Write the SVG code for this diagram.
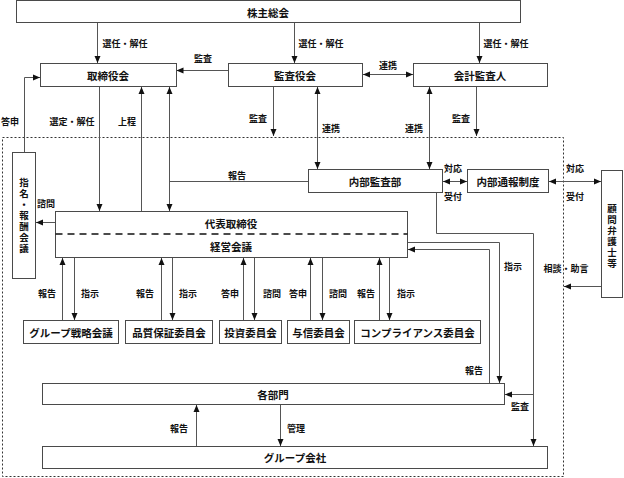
<svg xmlns="http://www.w3.org/2000/svg" width="624" height="478" viewBox="0 0 624 478">
<style>
.box{fill:#fff;stroke:#4a4a4a;stroke-width:1}
.t{font-family:"Noto Sans CJK JP","Noto Sans",sans-serif;font-size:10.5px;font-weight:bold;fill:#111;text-anchor:middle;dominant-baseline:central}
.v{font-family:"Noto Sans CJK JP","Noto Sans",sans-serif;font-size:9.5px;font-weight:bold;fill:#111;text-anchor:middle;writing-mode:vertical-rl;letter-spacing:1.5px}
.l{font-family:"Noto Sans CJK JP","Noto Sans",sans-serif;font-size:9px;font-weight:bold;fill:#111;text-anchor:middle;dominant-baseline:central}
.c{fill:none;stroke:#555;stroke-width:1}
.ae{marker-end:url(#ah)}
.ab{marker-start:url(#ah);marker-end:url(#ah)}
.dash{fill:none;stroke:#333;stroke-width:1;stroke-dasharray:2,2}
</style>
<defs>
<marker id="ah" viewBox="0 0 7 7" markerWidth="7" markerHeight="7" refX="7" refY="3.5" orient="auto-start-reverse" markerUnits="userSpaceOnUse">
<path d="M0,0.5 L7,3.5 L0,6.5 z" fill="#111"/>
</marker>
</defs>

<rect class="dash" x="2.5" y="137.5" width="561" height="339"/>

<g id="connectors">
<path class="c ae" d="M97.5,23 V63"/>
<path class="c ae" d="M294.5,23 V63"/>
<path class="c ae" d="M479.5,23 V63"/>
<path class="c ae" d="M228,70.5 H176.5"/>
<path class="c ab" d="M363,74.5 H413"/>
<path class="c ae" d="M24.5,152 V77.5 H40"/>
<path class="c ae" d="M99.5,87 V211"/>
<path class="c ae" d="M141.5,211 V87"/>
<path class="c ab" d="M169.5,87 V211"/>
<path class="c" d="M308,181.5 H169.5"/>
<path class="c ae" d="M273.5,87 V136"/>
<path class="c ab" d="M317.5,87 V169"/>
<path class="c ab" d="M429.5,87 V169"/>
<path class="c ae" d="M476.5,87 V136"/>
<path class="c ae" d="M55,222.5 H36"/>
<path class="c ab" d="M443,181.5 H467"/>
<path class="c ab" d="M549,181.5 H601"/>
<path class="c ae" d="M601,286.5 H564"/>
<path class="c ae" d="M436.5,193 V233.5 H533.5 V446"/>
<path class="c ae" d="M533.5,394.5 H505"/>
<path class="c ae" d="M408,242.5 H499.5 V383"/>
<path class="c ae" d="M489.5,383 V249.5 H408"/>
<path class="c ae" d="M62.5,320 V258"/>
<path class="c ae" d="M74.5,258 V320"/>
<path class="c ae" d="M161.5,320 V258"/>
<path class="c ae" d="M172.5,258 V320"/>
<path class="c ae" d="M243.5,320 V258"/>
<path class="c ae" d="M254.5,258 V320"/>
<path class="c ae" d="M310.5,320 V258"/>
<path class="c ae" d="M322.5,258 V320"/>
<path class="c ae" d="M379.5,320 V258"/>
<path class="c ae" d="M389.5,258 V320"/>
<path class="c ae" d="M196.5,446 V405"/>
<path class="c ae" d="M280.5,405 V446"/>
</g>

<g id="labels">
<text class="l" x="125" y="43">選任・解任</text>
<text class="l" x="321" y="43">選任・解任</text>
<text class="l" x="506" y="43">選任・解任</text>
<text class="l" x="203" y="58">監査</text>
<text class="l" x="388" y="65">連携</text>
<text class="l" x="10" y="121">答申</text>
<text class="l" x="72" y="121">選定・解任</text>
<text class="l" x="127" y="121">上程</text>
<text class="l" x="258" y="118">監査</text>
<text class="l" x="331" y="128">連携</text>
<text class="l" x="414" y="128">連携</text>
<text class="l" x="461" y="118">監査</text>
<text class="l" x="237" y="175">報告</text>
<text class="l" x="46" y="203">諮問</text>
<text class="l" x="453" y="168">対応</text>
<text class="l" x="453" y="196">受付</text>
<text class="l" x="575" y="168">対応</text>
<text class="l" x="575" y="196">受付</text>
<text class="l" x="566" y="268">相談・助言</text>
<text class="l" x="513" y="266">指示</text>
<text class="l" x="474" y="370">報告</text>
<text class="l" x="520" y="406">監査</text>
<text class="l" x="179" y="428">報告</text>
<text class="l" x="296" y="428">管理</text>
<text class="l" x="47" y="293">報告</text>
<text class="l" x="90" y="293">指示</text>
<text class="l" x="145" y="293">報告</text>
<text class="l" x="188" y="293">指示</text>
<text class="l" x="230" y="293">答申</text>
<text class="l" x="272" y="293">諮問</text>
<text class="l" x="298" y="293">答申</text>
<text class="l" x="338" y="293">諮問</text>
<text class="l" x="366" y="293">報告</text>
<text class="l" x="406" y="293">指示</text>
</g>

<g id="n-shareholders"><rect class="box" x="16.5" y="0.5" width="504" height="22"/><text class="t" x="268" y="12">株主総会</text></g>
<g id="n-board"><rect class="box" x="40.5" y="63.5" width="136" height="23"/><text class="t" x="108" y="75">取締役会</text></g>
<g id="n-auditboard"><rect class="box" x="228.5" y="63.5" width="134" height="23"/><text class="t" x="295" y="75">監査役会</text></g>
<g id="n-accountant"><rect class="box" x="413.5" y="63.5" width="134" height="23"/><text class="t" x="480" y="75">会計監査人</text></g>
<g id="n-nomination"><rect class="box" x="12.5" y="152.5" width="23" height="126"/><text class="v" x="24" y="216">指名・報酬会議</text></g>
<g id="n-ceo"><rect class="box" x="55.5" y="211.5" width="352" height="46"/><line x1="55.5" y1="234" x2="407.5" y2="234" stroke="#111" stroke-width="1.5" stroke-dasharray="7,5"/><text class="t" x="231" y="223">代表取締役</text><text class="t" x="231" y="246">経営会議</text></g>
<g id="n-internalaudit"><rect class="box" x="308.5" y="169.5" width="134" height="23"/><text class="t" x="375" y="181">内部監査部</text></g>
<g id="n-whistle"><rect class="box" x="467.5" y="169.5" width="81" height="23"/><text class="t" x="508" y="181">内部通報制度</text></g>
<g id="n-lawyer"><rect class="box" x="601.5" y="170.5" width="21" height="127"/><text class="v" x="612" y="237">顧問弁護士等</text></g>
<g id="n-groupstrategy"><rect class="box" x="23.5" y="320.5" width="95" height="23"/><text class="t" x="71" y="332">グループ戦略会議</text></g>
<g id="n-quality"><rect class="box" x="125.5" y="320.5" width="87" height="23"/><text class="t" x="169" y="332">品質保証委員会</text></g>
<g id="n-investment"><rect class="box" x="219.5" y="320.5" width="62" height="23"/><text class="t" x="250.5" y="332">投資委員会</text></g>
<g id="n-credit"><rect class="box" x="287.5" y="320.5" width="62" height="23"/><text class="t" x="318.5" y="332">与信委員会</text></g>
<g id="n-compliance"><rect class="box" x="354.5" y="320.5" width="126" height="23"/><text class="t" x="417.5" y="332">コンプライアンス委員会</text></g>
<g id="n-departments"><rect class="box" x="42.5" y="383.5" width="462" height="21"/><text class="t" x="273" y="394">各部門</text></g>
<g id="n-groupcos"><rect class="box" x="42.5" y="446.5" width="505" height="22"/><text class="t" x="295" y="457">グループ会社</text></g>
</svg>
